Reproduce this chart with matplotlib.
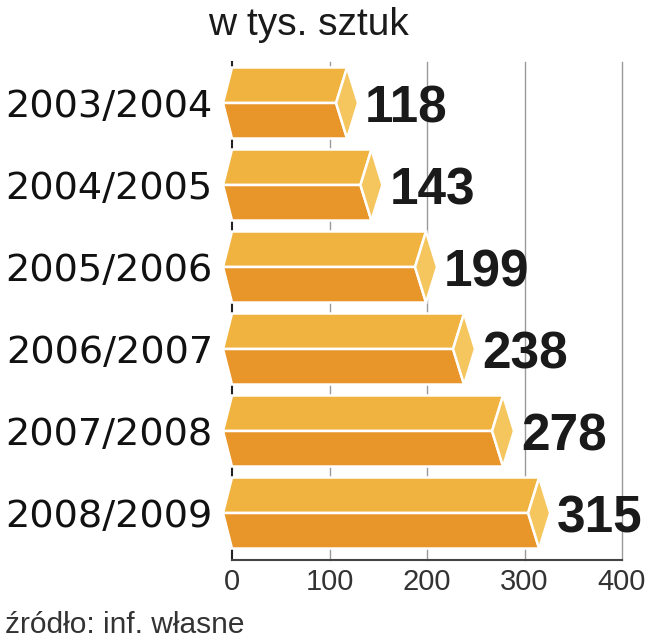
import matplotlib
matplotlib.use("Agg")
import matplotlib.pyplot as plt
from matplotlib.patches import Polygon

categories = ["2003/2004", "2004/2005", "2005/2006", "2006/2007", "2007/2008", "2008/2009"]
values = [118, 143, 199, 238, 278, 315]
xticks = [0, 100, 200, 300, 400]
title = "w tys. sztuk"
source = "źródło: inf. własne"

TOP_C = "#F1B340"
BOT_C = "#E8952A"
CAP_C = "#F5C55E"

W, H = 650, 640
fig = plt.figure(figsize=(W / 100, H / 100), dpi=100)
# axes: x 0 -> 232px, 400 -> 622px ; y top 62px, bottom 560px
ax = fig.add_axes([232 / W, 1 - 560 / H, (622 - 232) / W, (560 - 62) / H])
ax.set_xlim(0, 400)
ax.set_ylim(5.573, -0.5)

px = 400 / (622 - 232)  # value units per pixel
d = 11 * px
l = 9 * px
hh = 0.433

for i, (cat, v) in enumerate(zip(categories, values)):
    top, mid, bot = i - hh, i, i + hh
    kw = dict(closed=True, edgecolor="white", linewidth=1.8, zorder=3, clip_on=False)
    ax.add_patch(Polygon([(0, top), (v, top), (v - d, mid), (-l, mid)], facecolor=TOP_C, **kw))
    ax.add_patch(Polygon([(-l, mid), (v - d, mid), (v, bot), (0, bot)], facecolor=BOT_C, **kw))
    ax.add_patch(Polygon([(v, top), (v + d, mid), (v, bot), (v - d, mid)], facecolor=CAP_C, **kw))
    ax.text(v + d + 7 * px, mid, str(v), ha="left", va="center_baseline",
            fontsize=37, fontweight="bold", family="Liberation Sans", color="#1a1a1a", zorder=4)
    ax.text(-l - 10 * px, mid, cat, ha="right", va="center_baseline",
            fontsize=27.5, family="DejaVu Sans", color="#111111", clip_on=False)

ax.set_yticks([])
ax.set_xticks(xticks)
ax.set_xticklabels([str(t) for t in xticks], fontsize=21, family="Liberation Sans", color="#333333")
ax.tick_params(axis="x", length=0, pad=6)
for t in xticks[1:]:
    ax.axvline(t, color="#9a9a9a", linewidth=1.0, zorder=1, clip_on=False)
for s in ["top", "right"]:
    ax.spines[s].set_visible(False)
ax.spines["left"].set_color("#222222")
ax.spines["left"].set_linewidth(1.5)
ax.spines["left"].set_zorder(1)
ax.spines["bottom"].set_color("#444444")
ax.spines["bottom"].set_linewidth(1.5)
ax.patch.set_alpha(0)

fig.text(208 / W, 1 - 35 / H, title, ha="left", va="baseline", fontsize=28,
         family="Liberation Sans", color="#1a1a1a")
fig.text(5 / W, 1 - 633 / H, source, ha="left", va="baseline", fontsize=21.5,
         family="Liberation Sans", color="#333333")

fig.savefig("out.png", dpi=100, facecolor="white")
